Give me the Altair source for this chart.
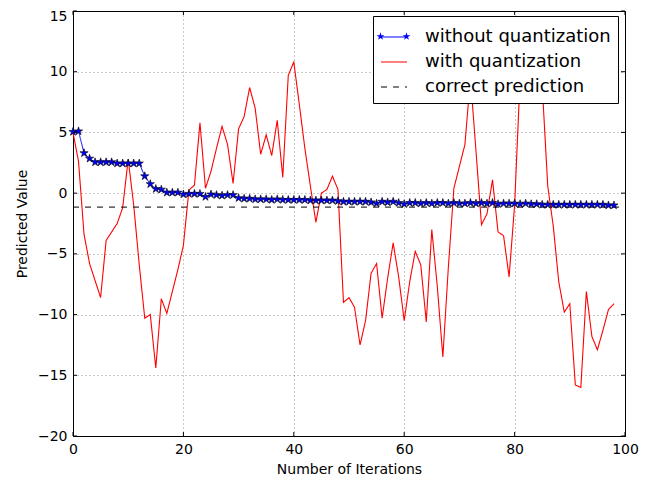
import altair as alt
import pandas as pd

# ---- data ----
iterations = list(range(99))

without_q = [5.05, 5.1, 3.3, 2.85, 2.55, 2.55, 2.55, 2.55, 2.45, 2.45,
             2.45, 2.45, 2.45, 1.4, 0.75, 0.35, 0.3, 0.05, 0.05, 0.05,
             -0.1, -0.05, -0.05, -0.05, -0.3, -0.1, -0.15, -0.2, -0.15, -0.15,
             -0.4, -0.45, -0.45, -0.5, -0.5, -0.5, -0.55, -0.5, -0.55, -0.55,
             -0.55, -0.55, -0.55, -0.6, -0.6, -0.6, -0.6, -0.6, -0.65, -0.7,
             -0.7, -0.7, -0.7, -0.7, -0.75, -0.85, -0.7, -0.75, -0.7, -0.8,
             -0.9, -0.8, -0.8, -0.85, -0.8, -0.85, -0.8, -0.8, -0.85, -0.8,
             -0.85, -0.85, -0.8, -0.85, -0.8, -0.85, -0.8, -0.9, -0.85, -0.85,
             -0.85, -0.9, -0.85, -0.9, -0.9, -0.95, -0.95, -0.95, -0.95, -0.95,
             -0.95, -0.95, -0.95, -0.95, -0.95, -0.95, -0.95, -1.0, -1.0]

with_q = [5.0, 2.6, -3.4, -5.8, -7.2, -8.6, -3.9, -3.2, -2.5, -1.2,
          2.8, -1.0, -5.9, -10.3, -10.0, -14.4, -8.7, -9.9, -8.1, -6.3,
          -4.3, 0.25, 0.66, 5.8, 0.4, 1.8, 3.7, 5.5, 4.0, 0.8,
          5.3, 6.3, 8.7, 7.0, 3.2, 4.8, 3.1, 6.0, 1.3, 9.7,
          10.8, 7.3, 3.7, 0.6, -2.4, 0.0, 0.3, 1.4, 0.3, -9.0,
          -8.6, -9.4, -12.5, -10.5, -6.6, -5.8, -10.3, -7.0, -4.1, -6.9,
          -10.5, -7.3, -4.8, -5.9, -10.6, -3.0, -7.7, -13.5, -6.1, 0.4,
          2.2, 4.0, 9.5, 3.5, -2.6, -1.7, 1.1, -3.2, -3.5, -6.9,
          -1.0, 9.5, 10.5, 12.0, 10.0, 8.9, 0.6, -2.7, -7.3, -9.8,
          -9.1, -15.8, -16.0, -8.1, -11.8, -12.9, -11.3, -9.6, -9.1]

correct_x = [0, 100]
correct_value = -1.15

series_names = ["without quantization", "with quantization", "correct prediction"]
x_domain = [0, 100]
y_domain = [-20, 15]
x_ticks = [0, 20, 40, 60, 80, 100]
y_ticks = [-20, -15, -10, -5, 0, 5, 10, 15]

# ---- tables ----
df_blue = pd.DataFrame({"x": iterations, "y": without_q, "series": series_names[0]})
df_red = pd.DataFrame({"x": iterations, "y": with_q, "series": series_names[1]})
df_corr = pd.DataFrame({"x": correct_x, "y": [correct_value] * len(correct_x),
                        "series": series_names[2]})
df_legend_only = pd.DataFrame({"x": pd.Series([], dtype=float),
                               "y": pd.Series([], dtype=float),
                               "marker": pd.Series([], dtype=str)})
df_xt_bot = pd.DataFrame({"x": x_ticks, "y": y_domain[0]})
df_xt_top = pd.DataFrame({"x": x_ticks, "y": y_domain[1]})
df_yt_left = pd.DataFrame({"x": x_domain[0], "y": y_ticks})
df_yt_right = pd.DataFrame({"x": x_domain[1], "y": y_ticks})

# star glyph (unit radius) and a legend glyph with two small stars at the ends
_star_pts = [(0, -1), (0.2245, -0.309), (0.951, -0.309), (0.363, 0.118), (0.588, 0.809),
             (0, 0.382), (-0.588, 0.809), (-0.363, 0.118), (-0.951, -0.309), (-0.2245, -0.309)]


def star_path(cx, r):
    parts = []
    for i, (px, py) in enumerate(_star_pts):
        parts.append(("M" if i == 0 else "L") + f"{cx + px * r:.4f},{py * r:.4f}")
    return "".join(parts) + "Z"


STAR = star_path(0, 1)
TWO_STARS = star_path(-1.0, 0.32) + star_path(1.0, 0.32)

FONT = "DejaVu Sans"
LEG_X, LEG_Y = 300, 5
LEG_PAD, LEG_SYM, LEG_ROWPAD, LEG_LABOFF, LEG_FS = 7, 676, 2, 17, 18

xscale = alt.Scale(domain=x_domain, nice=False)
yscale = alt.Scale(domain=y_domain, nice=False)
xenc = alt.X("x:Q", scale=xscale,
             axis=alt.Axis(values=x_ticks, title="Number of Iterations", format="d",
                           labelFlush=False))
yenc = alt.Y("y:Q", scale=yscale,
             axis=alt.Axis(values=y_ticks, title="Predicted Value", format="d",
                           labelFlush=False,
                           labelOffset={"condition": {"test": "datum.value == 15", "value": 5},
                                        "value": 0}))
main_legend = alt.Legend(title=None, orient="none", legendX=LEG_X, legendY=LEG_Y, zindex=1)
cenc = alt.Color("series:N",
                 scale=alt.Scale(domain=series_names, range=["#0000ff", "#ff0000", "#000000"]),
                 legend=main_legend)
denc = alt.StrokeDash("series:N",
                      scale=alt.Scale(domain=series_names, range=[[1, 0], [1, 0], [6, 6]]),
                      legend=main_legend)

star_legend = alt.Legend(
    title=None, orient="none", legendX=LEG_X, legendY=LEG_Y, zindex=2,
    fillColor="transparent", strokeColor="transparent", labelOpacity=0,
    symbolFillColor="#0000ff", symbolStrokeColor="black", symbolStrokeWidth=0.6,
    symbolOpacity=1,
)
senc = alt.Shape("marker:N", scale=alt.Scale(domain=[series_names[0]], range=[TWO_STARS]),
                 legend=star_legend)

blue_line = alt.Chart(df_blue).mark_line(strokeWidth=1).encode(x=xenc, y=yenc, color=cenc, strokeDash=denc)
blue_pts = alt.Chart(df_blue).mark_point(shape=STAR, filled=True, size=75, fill="#0000ff",
                                         stroke="black", strokeWidth=0.6, opacity=1).encode(x=xenc, y=yenc)
legend_stars = alt.Chart(df_legend_only).mark_point(filled=True, fill="#0000ff", stroke="black",
                                                    strokeWidth=0.6).encode(x=xenc, y=yenc, shape=senc)
red_line = alt.Chart(df_red).mark_line(strokeWidth=1.1).encode(x=xenc, y=yenc, color=cenc, strokeDash=denc)
corr_line = alt.Chart(df_corr).mark_line(strokeWidth=1).encode(x=xenc, y=yenc, color=cenc, strokeDash=denc)

tick_style = dict(color="black", thickness=1, size=4, opacity=1)
t_bot = alt.Chart(df_xt_bot).mark_tick(orient="vertical", yOffset=-2, **tick_style).encode(x=xenc, y=yenc)
t_top = alt.Chart(df_xt_top).mark_tick(orient="vertical", yOffset=2, **tick_style).encode(x=xenc, y=yenc)
t_left = alt.Chart(df_yt_left).mark_tick(orient="horizontal", xOffset=2, **tick_style).encode(x=xenc, y=yenc)
t_right = alt.Chart(df_yt_right).mark_tick(orient="horizontal", xOffset=-2, **tick_style).encode(x=xenc, y=yenc)

chart = alt.layer(blue_line, red_line, corr_line, blue_pts, legend_stars,
                  t_bot, t_top, t_left, t_right).properties(
    width=552, height=425,
    autosize=alt.AutoSizeParams(type="none"),
    padding={"left": 65, "top": 3, "right": 24, "bottom": 41},
).configure_view(
    stroke="black", strokeWidth=1
).configure_axis(
    labelFont=FONT, titleFont=FONT, labelFontSize=14, titleFontSize=14,
    labelColor="black", titleColor="black", titleFontWeight="normal",
    domainColor="black", ticks=False, labelPadding=6,
    grid=True, gridColor="black", gridDash=[1, 3], gridWidth=0.6, gridOpacity=0.7,
).configure_axisY(
    titlePadding=8
).configure_axisX(
    titlePadding=6
).configure_legend(
    fillColor="white", strokeColor="black",
    padding=LEG_PAD, labelFont=FONT, labelFontSize=LEG_FS, labelColor="black",
    symbolType="stroke", symbolSize=LEG_SYM, symbolStrokeWidth=1.2, rowPadding=LEG_ROWPAD,
    labelOffset=LEG_LABOFF, cornerRadius=0, labelLimit=400
)

chart.save("out.html", embed_options={"renderer": "svg", "actions": False})
